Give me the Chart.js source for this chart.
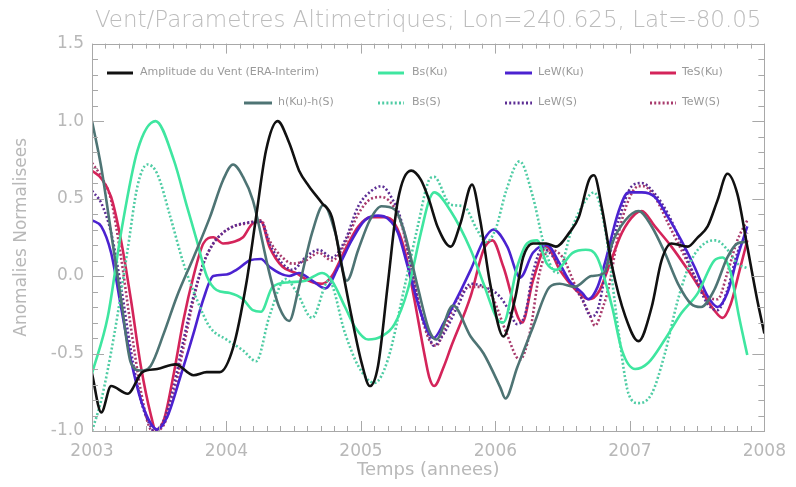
<!DOCTYPE html>
<html>
<head>
<meta charset="utf-8">
<script src="https://cdn.jsdelivr.net/npm/chart.js@4.4.1/dist/chart.umd.min.js"></script>
<style>
  html, body { margin: 0; padding: 0; background: #ffffff; }
  #c { display: block; }
</style>
</head>
<body>
<canvas id="c" width="796" height="487"></canvas>
<script>
// ---------------- DATA ----------------
const chartTitle = 'Vent/Parametres Altimetriques; Lon=240.625, Lat=-80.05';
const xTitle = 'Temps (annees)';
const yTitle = 'Anomalies Normalisees';
const xTickLabels = [2003, 2004, 2005, 2006, 2007, 2008];
const yTickLabels = [-1.0, -0.5, 0.0, 0.5, 1.0, 1.5];

const seriesNames = ['Amplitude du Vent (ERA-Interim)', 'h(Ku)-h(S)', 'Bs(Ku)', 'Bs(S)', 'LeW(Ku)', 'LeW(S)', 'TeS(Ku)', 'TeW(S)'];

const windYears = [2003.0, 2003.069, 2003.142, 2003.265, 2003.375, 2003.485, 2003.62, 2003.755, 2003.853, 2003.95, 2004.05, 2004.147, 2004.22, 2004.294, 2004.38, 2004.466, 2004.54, 2004.613, 2004.711, 2004.784, 2004.858, 2004.93, 2005.005, 2005.066, 2005.127, 2005.2, 2005.275, 2005.373, 2005.446, 2005.507, 2005.569, 2005.667, 2005.74, 2005.826, 2005.887, 2005.961, 2006.059, 2006.145, 2006.206, 2006.28, 2006.377, 2006.45, 2006.55, 2006.62, 2006.696, 2006.733, 2006.794, 2006.868, 2006.966, 2007.064, 2007.162, 2007.235, 2007.309, 2007.431, 2007.505, 2007.578, 2007.652, 2007.725, 2007.799, 2007.873, 2007.946, 2008.0];
const windVals = [-0.63, -0.88, -0.71, -0.76, -0.62, -0.6, -0.57, -0.64, -0.62, -0.62, -0.46, -0.05, 0.38, 0.81, 1.0, 0.86, 0.68, 0.58, 0.47, 0.38, 0.06, -0.26, -0.56, -0.71, -0.58, -0.05, 0.49, 0.68, 0.62, 0.49, 0.32, 0.19, 0.34, 0.59, 0.36, -0.05, -0.39, -0.15, 0.12, 0.21, 0.21, 0.19, 0.28, 0.38, 0.62, 0.65, 0.43, 0.06, -0.26, -0.42, -0.2, 0.1, 0.21, 0.19, 0.25, 0.32, 0.49, 0.66, 0.53, 0.19, -0.15, -0.37];

const hYears = [2003.0, 2003.069, 2003.142, 2003.216, 2003.289, 2003.363, 2003.436, 2003.534, 2003.632, 2003.755, 2003.877, 2003.975, 2004.049, 2004.123, 2004.196, 2004.319, 2004.392, 2004.466, 2004.539, 2004.637, 2004.723, 2004.809, 2004.895, 2004.98, 2005.066, 2005.152, 2005.25, 2005.324, 2005.422, 2005.507, 2005.56, 2005.684, 2005.816, 2005.912, 2006.037, 2006.074, 2006.162, 2006.279, 2006.404, 2006.478, 2006.588, 2006.713, 2006.809, 2006.868, 2006.966, 2007.064, 2007.162, 2007.26, 2007.358, 2007.456, 2007.529, 2007.627, 2007.725, 2007.799, 2007.86];
const hVals = [1.0, 0.7, 0.28, -0.15, -0.56, -0.61, -0.58, -0.37, -0.13, 0.12, 0.38, 0.62, 0.72, 0.64, 0.49, 0.02, -0.2, -0.29, -0.07, 0.28, 0.46, 0.28, -0.03, 0.17, 0.36, 0.45, 0.43, 0.28, -0.07, -0.35, -0.41, -0.19, -0.39, -0.5, -0.72, -0.79, -0.59, -0.33, -0.07, -0.05, -0.07, 0.0, 0.02, 0.21, 0.36, 0.42, 0.32, 0.15, -0.05, -0.18, -0.2, -0.09, 0.12, 0.21, 0.22];

const bsKuYears = [2003.0, 2003.118, 2003.216, 2003.338, 2003.473, 2003.608, 2003.706, 2003.779, 2003.853, 2003.926, 2004.025, 2004.123, 2004.196, 2004.257, 2004.343, 2004.466, 2004.588, 2004.711, 2004.784, 2004.882, 2004.956, 2005.054, 2005.152, 2005.25, 2005.348, 2005.446, 2005.507, 2005.544, 2005.667, 2005.816, 2005.912, 2006.015, 2006.059, 2006.162, 2006.235, 2006.309, 2006.382, 2006.451, 2006.574, 2006.672, 2006.757, 2006.868, 2006.941, 2007.039, 2007.137, 2007.26, 2007.382, 2007.505, 2007.627, 2007.689, 2007.75, 2007.811, 2007.873];
const bsKuVals = [-0.63, -0.26, 0.28, 0.81, 1.0, 0.75, 0.45, 0.23, 0.0, -0.09, -0.11, -0.15, -0.22, -0.23, -0.07, -0.04, -0.03, 0.02, -0.03, -0.2, -0.33, -0.41, -0.39, -0.31, -0.09, 0.28, 0.49, 0.54, 0.42, 0.17, -0.05, -0.28, -0.3, 0.06, 0.21, 0.23, 0.08, 0.04, 0.15, 0.17, 0.12, -0.2, -0.48, -0.6, -0.56, -0.41, -0.24, -0.11, 0.1, 0.12, 0.02, -0.26, -0.51];

const bsSYears = [2003.0, 2003.069, 2003.167, 2003.265, 2003.338, 2003.412, 2003.485, 2003.583, 2003.681, 2003.779, 2003.877, 2004.0, 2004.123, 2004.221, 2004.319, 2004.44, 2004.52, 2004.637, 2004.76, 2004.882, 2004.98, 2005.1, 2005.2, 2005.324, 2005.422, 2005.507, 2005.544, 2005.667, 2005.765, 2005.863, 2005.93, 2006.0, 2006.08, 2006.18, 2006.279, 2006.353, 2006.42, 2006.46, 2006.574, 2006.672, 2006.733, 2006.82, 2006.917, 2006.99, 2007.064, 2007.162, 2007.26, 2007.358, 2007.456, 2007.554, 2007.64, 2007.725, 2007.8, 2007.873];
const bsSVals = [-1.0, -0.8, -0.37, 0.17, 0.58, 0.72, 0.66, 0.38, 0.08, -0.15, -0.33, -0.41, -0.48, -0.55, -0.26, -0.02, -0.1, -0.27, -0.03, -0.37, -0.58, -0.69, -0.54, -0.07, 0.32, 0.62, 0.64, 0.46, 0.45, 0.3, 0.22, 0.3, 0.55, 0.74, 0.51, 0.23, 0.05, 0.02, 0.32, 0.49, 0.54, 0.28, -0.37, -0.76, -0.82, -0.76, -0.5, -0.15, 0.1, 0.21, 0.23, 0.17, 0.08, 0.05];

const leWKuYears = [2003.0, 2003.069, 2003.142, 2003.216, 2003.289, 2003.363, 2003.436, 2003.485, 2003.559, 2003.657, 2003.755, 2003.828, 2003.902, 2004.0, 2004.074, 2004.172, 2004.257, 2004.319, 2004.466, 2004.539, 2004.637, 2004.735, 2004.833, 2004.931, 2005.029, 2005.127, 2005.201, 2005.275, 2005.348, 2005.446, 2005.507, 2005.54, 2005.618, 2005.669, 2005.816, 2005.912, 2005.985, 2006.088, 2006.184, 2006.279, 2006.382, 2006.478, 2006.549, 2006.647, 2006.69, 2006.76, 2006.819, 2006.917, 2006.99, 2007.088, 2007.186, 2007.284, 2007.382, 2007.48, 2007.578, 2007.652, 2007.725, 2007.799, 2007.873];
const leWKuVals = [0.36, 0.32, 0.15, -0.2, -0.54, -0.8, -0.95, -0.99, -0.91, -0.65, -0.37, -0.15, 0.0, 0.01, 0.04, 0.1, 0.11, 0.06, 0.0, 0.02, -0.03, -0.08, 0.06, 0.23, 0.36, 0.39, 0.37, 0.28, 0.06, -0.24, -0.37, -0.4, -0.3, -0.22, 0.04, 0.23, 0.3, 0.19, -0.01, 0.15, 0.2, 0.08, -0.03, -0.11, -0.15, -0.07, 0.1, 0.42, 0.54, 0.54, 0.51, 0.38, 0.23, 0.06, -0.13, -0.2, -0.11, 0.12, 0.32];

const leWSYears = [2003.0, 2003.069, 2003.142, 2003.216, 2003.289, 2003.363, 2003.424, 2003.461, 2003.534, 2003.608, 2003.681, 2003.755, 2003.828, 2003.902, 2003.975, 2004.049, 2004.123, 2004.257, 2004.319, 2004.417, 2004.49, 2004.588, 2004.686, 2004.784, 2004.882, 2004.98, 2005.078, 2005.152, 2005.225, 2005.299, 2005.373, 2005.446, 2005.507, 2005.54, 2005.618, 2005.716, 2005.816, 2005.92, 2006.03, 2006.1, 2006.16, 2006.22, 2006.279, 2006.353, 2006.451, 2006.549, 2006.647, 2006.71, 2006.76, 2006.819, 2006.917, 2007.015, 2007.088, 2007.186, 2007.284, 2007.382, 2007.48, 2007.578, 2007.652, 2007.725, 2007.799, 2007.873];
const leWSVals = [0.55, 0.47, 0.28, -0.07, -0.48, -0.8, -0.95, -1.0, -0.93, -0.71, -0.41, -0.13, 0.08, 0.21, 0.28, 0.32, 0.34, 0.35, 0.21, 0.08, 0.04, 0.12, 0.17, 0.12, 0.23, 0.45, 0.55, 0.58, 0.51, 0.36, 0.06, -0.24, -0.39, -0.45, -0.37, -0.2, -0.05, -0.07, -0.13, -0.22, -0.31, -0.25, 0.02, 0.18, 0.1, -0.03, -0.15, -0.26, -0.22, 0.02, 0.36, 0.58, 0.6, 0.53, 0.4, 0.21, 0.0, -0.18, -0.22, -0.09, 0.15, 0.28];

const teSKuYears = [2003.0, 2003.069, 2003.142, 2003.216, 2003.289, 2003.363, 2003.436, 2003.473, 2003.534, 2003.608, 2003.681, 2003.755, 2003.828, 2003.902, 2003.975, 2004.049, 2004.123, 2004.196, 2004.257, 2004.319, 2004.417, 2004.515, 2004.613, 2004.711, 2004.784, 2004.882, 2004.98, 2005.078, 2005.176, 2005.25, 2005.324, 2005.397, 2005.471, 2005.507, 2005.544, 2005.618, 2005.669, 2005.816, 2005.912, 2005.978, 2006.059, 2006.199, 2006.279, 2006.382, 2006.478, 2006.598, 2006.696, 2006.77, 2006.843, 2006.941, 2007.039, 2007.088, 2007.186, 2007.309, 2007.431, 2007.529, 2007.627, 2007.689, 2007.75, 2007.811, 2007.873];
const teSKuVals = [0.68, 0.63, 0.51, 0.23, -0.15, -0.58, -0.89, -0.99, -0.93, -0.63, -0.28, 0.0, 0.21, 0.25, 0.21, 0.22, 0.25, 0.34, 0.35, 0.19, 0.06, 0.02, -0.03, -0.05, 0.0, 0.17, 0.32, 0.38, 0.38, 0.34, 0.17, -0.15, -0.5, -0.65, -0.71, -0.58, -0.46, -0.13, 0.17, 0.23, 0.06, -0.3, -0.03, 0.19, 0.04, -0.09, -0.15, -0.1, 0.06, 0.28, 0.4, 0.42, 0.32, 0.19, 0.04, -0.09, -0.22, -0.27, -0.18, 0.02, 0.23];

const teWSYears = [2003.0, 2003.069, 2003.142, 2003.216, 2003.289, 2003.363, 2003.424, 2003.461, 2003.534, 2003.608, 2003.681, 2003.755, 2003.828, 2003.902, 2003.975, 2004.049, 2004.147, 2004.257, 2004.319, 2004.417, 2004.49, 2004.588, 2004.686, 2004.784, 2004.882, 2004.98, 2005.078, 2005.152, 2005.225, 2005.299, 2005.373, 2005.446, 2005.507, 2005.56, 2005.618, 2005.716, 2005.814, 2005.912, 2005.985, 2006.083, 2006.181, 2006.255, 2006.328, 2006.402, 2006.5, 2006.598, 2006.696, 2006.74, 2006.8, 2006.843, 2006.917, 2006.99, 2007.064, 2007.1, 2007.186, 2007.284, 2007.382, 2007.48, 2007.578, 2007.652, 2007.725, 2007.799, 2007.873];
const teWSVals = [0.73, 0.64, 0.49, 0.12, -0.33, -0.74, -0.97, -1.0, -0.96, -0.76, -0.46, -0.15, 0.08, 0.21, 0.28, 0.32, 0.34, 0.36, 0.23, 0.12, 0.08, 0.1, 0.15, 0.1, 0.21, 0.4, 0.5, 0.51, 0.47, 0.34, 0.06, -0.24, -0.41, -0.45, -0.35, -0.15, -0.07, -0.07, -0.15, -0.37, -0.54, -0.37, 0.02, 0.17, 0.12, -0.07, -0.24, -0.32, -0.2, -0.07, 0.28, 0.49, 0.58, 0.58, 0.51, 0.34, 0.17, 0.0, -0.13, -0.15, 0.02, 0.23, 0.36];

// ---------------- STYLE ----------------
const TXT = '#b8b8b8';
const FONT = "'DejaVu Sans', 'Liberation Sans', sans-serif";
const styles = [
  { color: '#111111', dash: [] },
  { color: '#4e7474', dash: [] },
  { color: '#3fe6a0', dash: [] },
  { color: '#4fcca4', dash: [2, 2.2] },
  { color: '#4b22d0', dash: [] },
  { color: '#5c2d94', dash: [2, 2.2] },
  { color: '#d4245a', dash: [] },
  { color: '#a83a6c', dash: [2, 2.2] }
];
const xs = [windYears, hYears, bsKuYears, bsSYears, leWKuYears, leWSYears, teSKuYears, teWSYears];
const ys = [windVals, hVals, bsKuVals, bsSVals, leWKuVals, leWSVals, teSKuVals, teWSVals];

const datasets = seriesNames.map((name, k) => ({
  label: name,
  data: xs[k].map((x, i) => ({ x: x, y: ys[k][i] })),
  borderColor: styles[k].color,
  borderDash: styles[k].dash,
  borderWidth: 2.6,
  pointRadius: 0,
  fill: false,
  cubicInterpolationMode: 'monotone'
}));

// legend layout: [datasetIndex, sampleStart, sampleEnd, textX, y]
const legendLayout = [
  [0, 107, 133, 140, 73], [2, 378, 404, 412, 73], [4, 505, 532, 538, 73], [6, 650, 676, 682, 73],
  [1, 244, 272, 278, 103], [3, 378, 404, 412, 103], [5, 505, 532, 538, 103], [7, 650, 676, 682, 103]
];

const framePlugin = {
  id: 'frame',
  afterDatasetsDraw(chart) {
    const ctx = chart.ctx;
    const a = chart.chartArea;
    const sx = chart.scales.x, sy = chart.scales.y;
    ctx.save();
    ctx.strokeStyle = '#a8a8a8';
    ctx.lineWidth = 1;
    ctx.setLineDash([]);
    ctx.strokeRect(Math.round(a.left) + 0.5, Math.round(a.top) + 0.5, Math.round(a.right - a.left), Math.round(a.bottom - a.top));
    ctx.beginPath();
    for (let i = 0; i <= 50; i++) {
      const v = xTickLabels[0] + i / 10;
      const px = Math.round(sx.getPixelForValue(v)) + 0.5;
      const len = (i % 10 === 0) ? 10 : 5;
      ctx.moveTo(px, a.bottom); ctx.lineTo(px, a.bottom - len);
      ctx.moveTo(px, a.top); ctx.lineTo(px, a.top + len);
    }
    for (let i = 0; i <= 25; i++) {
      const v = yTickLabels[0] + i / 10;
      const py = Math.round(sy.getPixelForValue(v)) + 0.5;
      const len = (i % 5 === 0) ? 12 : 6;
      ctx.moveTo(a.left, py); ctx.lineTo(a.left + len, py);
      ctx.moveTo(a.right, py); ctx.lineTo(a.right - len, py);
    }
    ctx.stroke();

    ctx.font = '11px ' + FONT;
    ctx.textBaseline = 'middle';
    ctx.textAlign = 'left';
    legendLayout.forEach(([k, x1, x2, tx, y]) => {
      const ds = chart.data.datasets[k];
      ctx.beginPath();
      ctx.strokeStyle = ds.borderColor;
      ctx.lineWidth = 3;
      ctx.setLineDash(ds.borderDash || []);
      ctx.moveTo(x1, y); ctx.lineTo(x2, y);
      ctx.stroke();
      ctx.setLineDash([]);
      ctx.fillStyle = '#9a9a9a';
      ctx.fillText(ds.label, tx, y - 1);
    });
    ctx.restore();
  }
};

new Chart(document.getElementById('c'), {
  type: 'line',
  data: { datasets: datasets },
  plugins: [framePlugin],
  options: {
    responsive: false,
    devicePixelRatio: 1,
    animation: false,
    layout: { padding: { left: 0, right: 24, top: 0, bottom: 0 } },
    plugins: {
      legend: { display: false },
      tooltip: { enabled: false },
      title: {
        display: true,
        text: chartTitle,
        fullSize: false,
        color: '#bcbcbc',
        font: { family: FONT, size: 23, weight: '200' },
        padding: { top: 7, bottom: 9 }
      }
    },
    scales: {
      x: {
        type: 'linear',
        min: xTickLabels[0],
        max: xTickLabels[xTickLabels.length - 1],
        afterBuildTicks(scale) { scale.ticks = xTickLabels.map(v => ({ value: v })); },
        afterFit(scale) { scale.height = 56; },
        grid: { display: false, drawTicks: false },
        border: { display: false },
        ticks: {
          color: TXT, padding: 10, maxRotation: 0,
          font: { family: FONT, size: 17 },
          callback: (v) => String(v)
        },
        title: {
          display: true, text: xTitle, color: TXT,
          font: { family: FONT, size: 18 },
          padding: { top: 0, bottom: 6 }
        }
      },
      y: {
        type: 'linear',
        min: yTickLabels[0],
        max: yTickLabels[yTickLabels.length - 1],
        afterBuildTicks(scale) { scale.ticks = yTickLabels.map(v => ({ value: v })); },
        afterFit(scale) { scale.width = 92; },
        grid: { display: false, drawTicks: false },
        border: { display: false },
        ticks: {
          color: TXT, padding: 8,
          font: { family: FONT, size: 17 },
          callback: (v) => Number(v).toFixed(1)
        },
        title: {
          display: true, text: yTitle, color: TXT,
          font: { family: FONT, size: 17 },
          padding: { top: 11, bottom: 0 }
        }
      }
    }
  }
});
</script>
</body>
</html>
